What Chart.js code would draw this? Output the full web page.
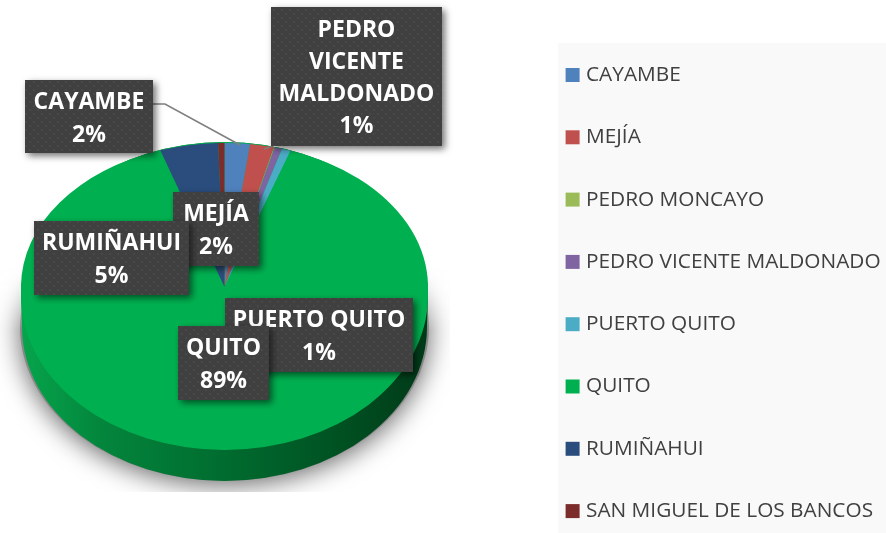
<!DOCTYPE html>
<html><head><meta charset="utf-8">
<style>html,body{margin:0;padding:0;background:#fff}canvas{display:block}</style>
<script src="https://cdn.jsdelivr.net/npm/chart.js@4"></script></head>
<body><div style="width:886px;height:533px"><canvas id="c" width="886" height="533"></canvas></div>
<script>
const categories = ["CAYAMBE","MEJÍA","PEDRO MONCAYO","PEDRO VICENTE MALDONADO","PUERTO QUITO","QUITO","RUMIÑAHUI","SAN MIGUEL DE LOS BANCOS"];
const shares = [2.0,1.9,0.05,0.6,0.7,89.4,4.6,0.5];
const sliceColors = ["#4f81bd","#c0504d","#9bbb59","#8064a2","#4bacc6","#00b050","#2a4d7e","#7b2c2b"];
const labelLines = [["CAYAMBE"],["MEJÍA"],null,["PEDRO","VICENTE","MALDONADO"],["PUERTO QUITO"],["QUITO"],["RUMIÑAHUI"],null];
const labelBoxes = [[25,80,128,73],[173,192,86,74],null,[271,7,171,139],[225,298,188,74],[178,326,91,74],[34,221,155,74],null];

const PIE = {cx:224.5, apexY:287, rx:203.5, topRy:144, faceCy:296, faceRy:154, depth:31};

function dotPattern(ctx){
  const p=document.createElement('canvas');p.width=8;p.height=8;
  const g=p.getContext('2d');g.fillStyle='#404040';g.fillRect(0,0,8,8);
  g.fillStyle='#484848';g.fillRect(1,1,2,2);g.fillRect(5,5,2,2);
  return ctx.createPattern(p,'repeat');
}
const pieLook = {
  id:'pieLook',
  beforeDraw(chart){
    const ctx=chart.ctx;
    ctx.save();ctx.fillStyle='#f9f9f9';ctx.fillRect(558,43,328,490);ctx.restore();
  },
  beforeLayout(chart){
    const l=chart.legend;
    if(!l._tallFit){
      const up=l.update;
      l.update=function(w,h,m){return up.call(this,w,800,m);};
      l._tallFit=true;
    }
  },
  afterLayout(chart){
    const l=chart.legend;
    l.left=569.6-l.options.labels.padding;
    l.top=64.6-l.options.labels.padding;
    l.bottom=800;
  },
  beforeDatasetsDraw(chart){
    const ctx=chart.ctx, P=PIE;
    // soft ground shadow
    ctx.save();
    ctx.beginPath();ctx.rect(0,265,450,227);ctx.clip();
    ctx.shadowColor='rgba(0,0,0,0.6)';ctx.shadowBlur=26;ctx.shadowOffsetY=4;
    ctx.fillStyle='#888';
    ctx.beginPath();ctx.ellipse(P.cx,P.faceCy+P.depth,P.rx+1,P.faceRy,0,0,Math.PI*2);ctx.fill();
    ctx.shadowColor='transparent';
    const fade=ctx.createLinearGradient(0,265,0,330);
    fade.addColorStop(0,'rgba(255,255,255,1)');fade.addColorStop(1,'rgba(255,255,255,0)');
    ctx.fillStyle=fade;ctx.fillRect(0,265,450,65);
    ctx.restore();
    // side wall
    ctx.save();
    const g=ctx.createLinearGradient(P.cx-P.rx,0,P.cx+P.rx,0);
    g.addColorStop(0,'#06a54c');g.addColorStop(0.2,'#03853c');g.addColorStop(0.5,'#006c2f');g.addColorStop(0.8,'#004f21');g.addColorStop(1,'#003a18');
    ctx.fillStyle=g;
    ctx.beginPath();
    ctx.ellipse(P.cx,P.faceCy+P.depth,P.rx-1,P.faceRy,0,0,Math.PI);
    ctx.ellipse(P.cx,P.faceCy,P.rx,P.faceRy,0,Math.PI,Math.PI*2);
    ctx.closePath();ctx.fill();
    // top face
    ctx.fillStyle=sliceColors[5];
    ctx.beginPath();ctx.ellipse(P.cx,P.faceCy,P.rx,P.faceRy,0,0,Math.PI*2);ctx.fill();
    ctx.restore();
    // slices, tilted
    const a=chart.getDatasetMeta(0).data[0];
    ctx.save();
    ctx.translate(P.cx,P.apexY);
    ctx.scale(P.rx/a.outerRadius,P.topRy/a.outerRadius);
    ctx.translate(-a.x,-a.y);
  },
  afterDatasetsDraw(chart){
    const ctx=chart.ctx;
    ctx.restore();
    // leader lines
    ctx.save();
    ctx.strokeStyle='#7f7f7f';ctx.lineWidth=1.6;
    ctx.beginPath();ctx.moveTo(153,104);ctx.lineTo(165,104);ctx.lineTo(240,145);ctx.stroke();
    ctx.beginPath();ctx.moveTo(273,146);ctx.lineTo(264,149);ctx.stroke();
    ctx.restore();
    const pat=dotPattern(ctx);
    labelBoxes.forEach((b,i)=>{
      if(!b) return;
      const [x,y,w,h]=b;
      ctx.save();
      ctx.shadowColor='rgba(0,0,0,0.55)';ctx.shadowBlur=7;ctx.shadowOffsetX=3;ctx.shadowOffsetY=3;
      ctx.fillStyle=pat;ctx.fillRect(x,y,w,h);
      ctx.restore();
      const lines=labelLines[i].concat([Math.round(shares[i])+'%']);
      ctx.save();
      ctx.fillStyle='#fff';ctx.font='bold 23px "Open Sans"';ctx.textAlign='center';ctx.textBaseline='middle';
      const lh=lines.length>2?32:33, y0=y+h/2-(lines.length-1)*lh/2;
      lines.forEach((t,k)=>ctx.fillText(t,x+w/2,y0+k*lh+2));
      ctx.restore();
    });
  }
};
new Chart(document.getElementById('c'),{
  type:'pie',
  data:{labels:categories,datasets:[{data:shares,backgroundColor:sliceColors,borderWidth:0}]},
  plugins:[pieLook],
  options:{
    responsive:false,animation:false,
    plugins:{
      tooltip:{enabled:false},
      legend:{position:'right',align:'start',labels:{
        usePointStyle:true,pointStyle:'rect',boxWidth:6,boxHeight:14,padding:41.5,
        color:'#404040',font:{family:'"Open Sans"',size:20.8}
      }}
    }
  }
});
</script></body></html>
